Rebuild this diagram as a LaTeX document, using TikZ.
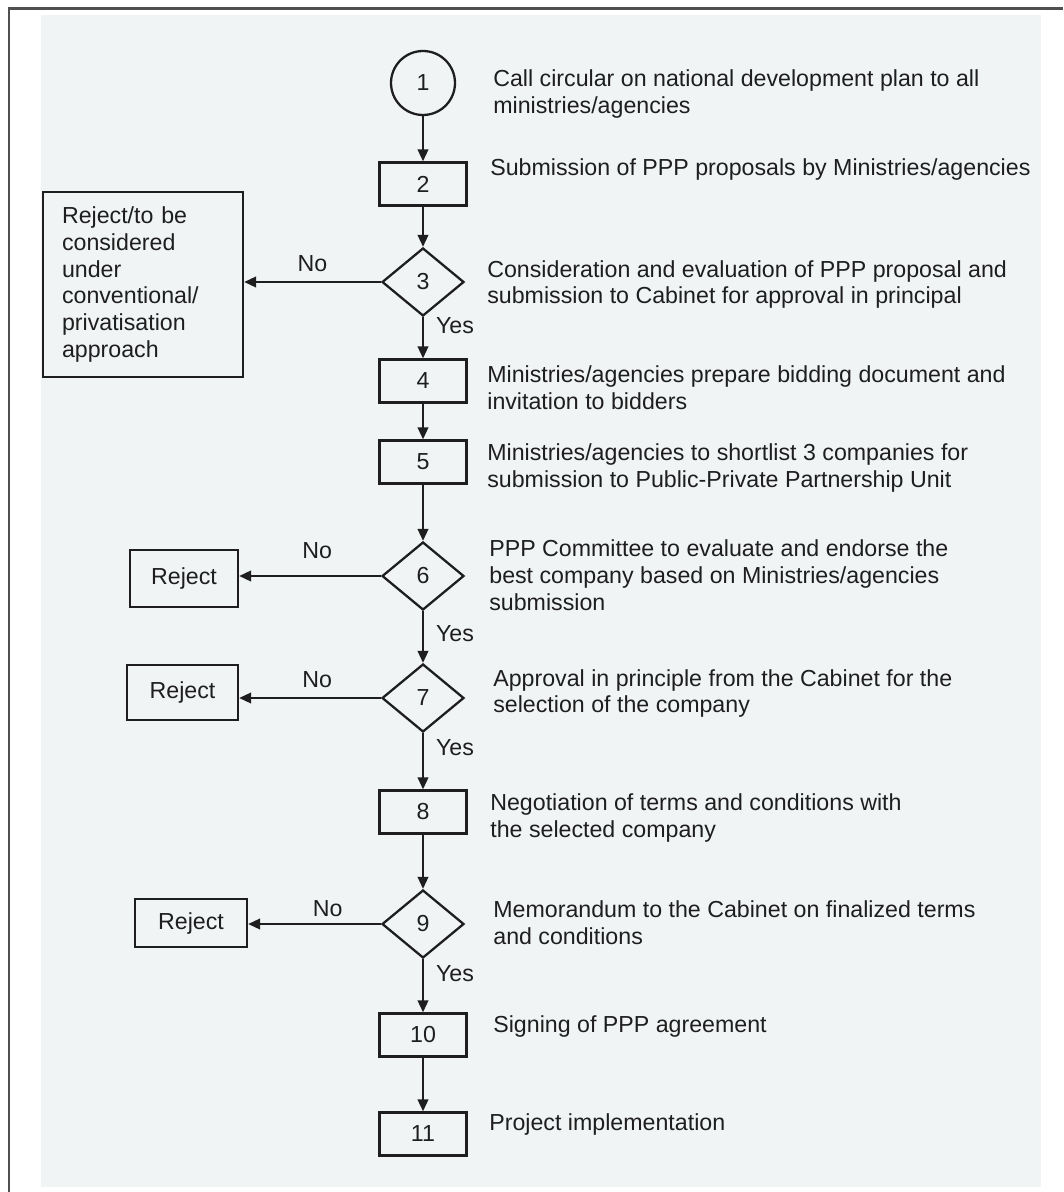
\documentclass[tikz,border=0pt]{standalone}
\usepackage{fontspec}
\setmainfont{Liberation Sans}
\usepackage{xcolor}
\usepackage{tikz}
\usetikzlibrary{shapes.geometric,arrows.meta}

\definecolor{paper}{RGB}{241,244,245}
\definecolor{ink}{RGB}{30,30,30}
\definecolor{framegray}{RGB}{80,80,80}

\begin{document}
\begin{tikzpicture}[x=0.02cm,y=-0.02cm,
        font=\fontsize{13.2}{15.3}\selectfont, text=ink,
        stepbox/.style={draw=ink, line width=1.3pt, minimum width=1.74cm, minimum height=0.86cm, inner sep=0pt},
        decision/.style={draw=ink, line width=1.3pt, diamond, minimum width=1.64cm, minimum height=1.36cm, inner sep=0pt},
        rejectbox/.style={draw=ink, line width=1.3pt, inner sep=0pt},
        desc/.style={anchor=west, align=left, inner sep=0pt},
        flow/.style={draw=ink, line width=1.3pt, -{Triangle[length=0.24cm,width=0.21cm]}}]
            % Define page frame
            \def\pageW{1063}
            \def\pageH{1192}
            \def\midX{423}
            \useasboundingbox (0,0) rectangle (\pageW,\pageH);

            % Draw background and frame
            \fill [paper] (41,15) rectangle (1041,1187);
            \draw [framegray, line width=0.06cm] (9,\pageH) -- (9,9) -- (\pageW,9);

            % Draw steps
            \node [draw=ink, line width=1.3pt, circle, minimum size=1.28cm, inner sep=0pt] (c1) at (\midX,83) {1};
            \node [stepbox] (b2) at (\midX,184) {2};
            \node [decision] (d3) at (\midX,282) {3};
            \node [stepbox] (b4) at (\midX,381) {4};
            \node [stepbox] (b5) at (\midX,462) {5};
            \node [decision] (d6) at (\midX,576) {6};
            \node [decision] (d7) at (\midX,698) {7};
            \node [stepbox] (b8) at (\midX,812) {8};
            \node [decision] (d9) at (\midX,924) {9};
            \node [stepbox] (b10) at (\midX,1035) {10};
            \node [stepbox] (b11) at (\midX,1134) {11};

            % Draw reject boxes
            \node [rejectbox, minimum width=4cm, minimum height=3.7cm, text width=3.24cm, align=left] (r3) at (143,284.5)
                {Reject/to be\\considered\\under\\conventional/\\privatisation\\approach};
            \node [rejectbox, minimum width=2.16cm, minimum height=1.14cm] (r6) at (184,578.5) {Reject};
            \node [rejectbox, minimum width=2.22cm, minimum height=1.1cm] (r7) at (182.5,692.5) {Reject};
            \node [rejectbox, minimum width=2.24cm, minimum height=0.96cm] (r9) at (191,923) {Reject};

            % Draw main flow
            \draw [flow] (c1) -- (b2);
            \draw [flow] (b2) -- (d3);
            \draw [flow] (d3) -- node [pos=0.2, right=0.12cm] {Yes} (b4);
            \draw [flow] (b4) -- (b5);
            \draw [flow] (b5) -- (d6);
            \draw [flow] (d6) -- node [pos=0.44, right=0.12cm] {Yes} (d7);
            \draw [flow] (d7) -- node [pos=0.26, right=0.12cm] {Yes} (b8);
            \draw [flow] (b8) -- (d9);
            \draw [flow] (d9) -- node [pos=0.27, right=0.12cm] {Yes} (b10);
            \draw [flow] (b10) -- (b11);

            % Draw rejections
            \draw [flow] (d3.west) -- node [pos=0.5, above=0.06cm] {No} (d3.west -| r3.east);
            \draw [flow] (d6.west) -- node [pos=0.45, above=0.2cm] {No} (d6.west -| r6.east);
            \draw [flow] (d7.west) -- node [pos=0.45, above=0.06cm] {No} (d7.west -| r7.east);
            \draw [flow] (d9.west) -- node [pos=0.4, above=0pt] {No} (d9.west -| r9.east);

            % Label steps
            \node [desc] (t1) at (493,94) {Call circular on national development plan to all\\ministries/agencies};
            \node [desc] (t2) at (490,170) {Submission of PPP proposals by Ministries/agencies};
            \node [desc] (t3) at (487,284.5) {Consideration and evaluation of PPP proposal and\\submission to Cabinet for approval in principal};
            \node [desc] (t4) at (487,388) {Ministries/agencies prepare bidding document and\\invitation to bidders};
            \node [desc] (t5) at (487,468) {Ministries/agencies to shortlist 3 companies for\\submission to Public-Private Partnership Unit};
            \node [desc] (t6) at (489,575) {PPP Committee to evaluate and endorse the\\best company based on Ministries/agencies\\submission};
            \node [desc] (t7) at (493,693.5) {Approval in principle from the Cabinet for the\\selection of the company};
            \node [desc] (t8) at (490,818) {Negotiation of terms and conditions with\\the selected company};
            \node [desc] (t9) at (493,923) {Memorandum to the Cabinet on finalized terms\\and conditions};
            \node [desc] (t10) at (493,1026) {Signing of PPP agreement};
            \node [desc] (t11) at (489,1124) {Project implementation};

        \end{tikzpicture}
\end{document}
